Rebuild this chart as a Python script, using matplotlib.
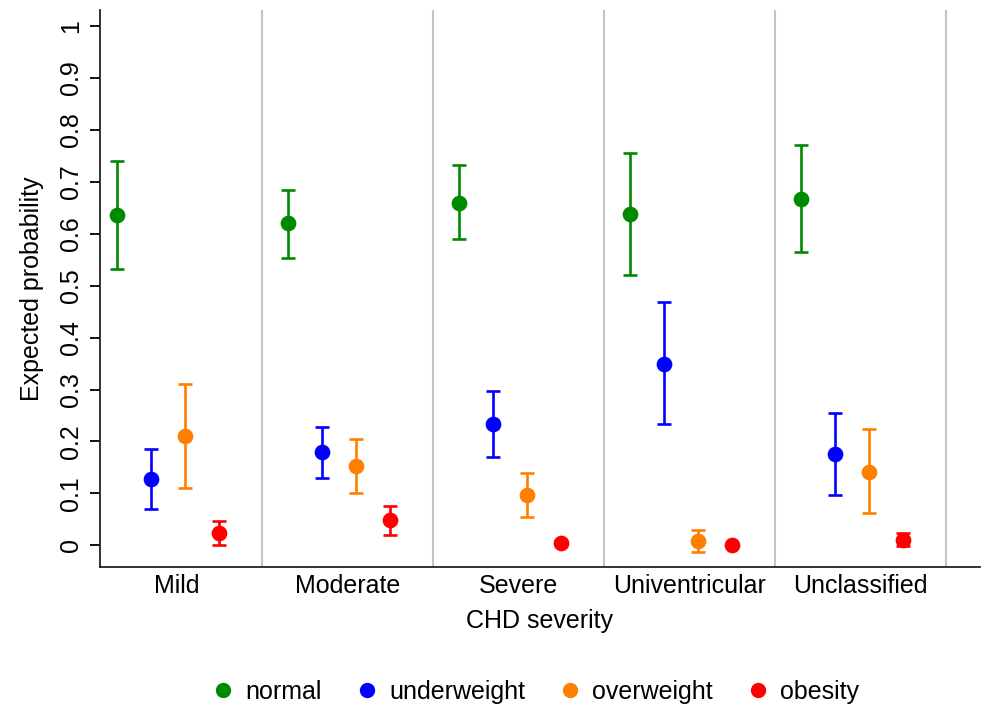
import numpy as np
import matplotlib
matplotlib.use("Agg")
from matplotlib import pyplot as plt
from matplotlib.lines import Line2D

plt.rcParams['font.family'] = ['Liberation Sans', 'DejaVu Sans']

# CHD severity groups
categories = ["Mild", "Moderate", "Severe", "Univentricular", "Unclassified"]
groups = ["normal", "underweight", "overweight", "obesity"]
colors = ["#008a00", "#0000ff", "#ff8000", "#ff0000"]

# expected probability and 95% CI, one row per BMI group, columns = severity
est = np.array([
    [0.637, 0.620, 0.660, 0.638, 0.667],   # normal
    [0.127, 0.179, 0.234, 0.350, 0.176],   # underweight
    [0.210, 0.152, 0.097, 0.009, 0.142],   # overweight
    [0.023, 0.048, 0.005, 0.000, 0.011],   # obesity
])
lo = np.array([
    [0.532, 0.554, 0.589, 0.520, 0.565],
    [0.069, 0.130, 0.170, 0.233, 0.097],
    [0.110, 0.101, 0.055, -0.012, 0.062],
    [0.001, 0.019, 0.001, 0.000, -0.001],
])
hi = np.array([
    [0.741, 0.685, 0.732, 0.756, 0.770],
    [0.186, 0.227, 0.298, 0.468, 0.254],
    [0.310, 0.204, 0.140, 0.030, 0.223],
    [0.047, 0.075, 0.009, 0.001, 0.024],
])

offsets = [-0.35, -0.15, 0.05, 0.25]
xpos = np.arange(1, len(categories) + 1)

fig = plt.figure(figsize=(9.84, 7.08), dpi=100)
ax = fig.add_axes([0.1016, 0.199, 0.894, 0.787])

# grey separators between severity groups
for k in xpos:
    ax.axvline(k + 0.5, color="#c4c4c4", lw=1.5, zorder=0)

for i, g in enumerate(groups):
    x = xpos + offsets[i]
    ax.errorbar(x, est[i], yerr=[est[i] - lo[i], hi[i] - est[i]], fmt="o",
                color=colors[i], ms=10.3, elinewidth=1.9, capsize=5,
                capthick=1.9, label=g)

ax.set_xlim(0.551, 5.697)
ax.set_ylim(-0.042, 1.031)
ax.set_yticks(np.arange(0, 1.01, 0.1))
ax.set_yticklabels(["0"] + ["%.1f" % v for v in np.arange(0.1, 0.95, 0.1)] + ["1"])
ax.set_xticks(xpos)
ax.set_xticklabels(categories)

ax.tick_params(axis="x", length=0, pad=5, labelsize=18)
ax.tick_params(axis="y", length=7, width=1.3, pad=5, labelsize=18, labelrotation=90)
for lab in ax.get_yticklabels():
    lab.set_va("center")

ax.spines["top"].set_visible(False)
ax.spines["right"].set_visible(False)
ax.spines["left"].set_linewidth(1.3)
ax.spines["bottom"].set_linewidth(1.3)
ax.spines["left"].set_color("#222222")
ax.spines["bottom"].set_color("#222222")

ax.set_xlabel("CHD severity", fontsize=18, labelpad=8)
ax.set_ylabel("Expected probability", fontsize=18, labelpad=11)

handles = [Line2D([], [], ls="none", marker="o", ms=10, color=c) for c in colors]
fig.legend(handles, groups, loc="center", bbox_to_anchor=(0.545, 0.023), ncol=4,
           frameon=False, fontsize=18, handlelength=0.8, handletextpad=0.48,
           columnspacing=1.41, borderaxespad=0, borderpad=0)

plt.savefig("out.png", dpi=100)
